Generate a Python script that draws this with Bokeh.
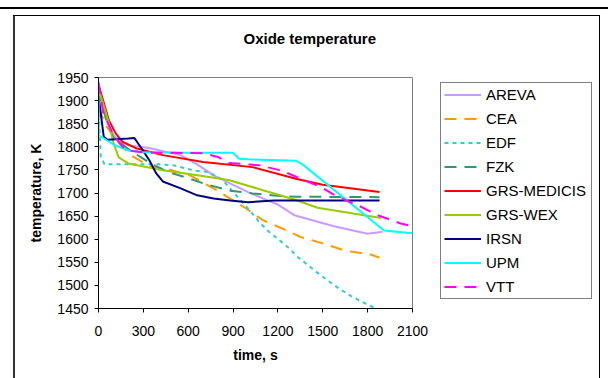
from bokeh.plotting import figure
from bokeh.models import Legend, LegendItem, Title, FixedTicker, Range1d
from bokeh.embed import file_html
from bokeh.resources import INLINE

# ---------------- data ----------------
x_ticks = [0, 300, 600, 900, 1200, 1500, 1800, 2100]
y_ticks = [1450, 1500, 1550, 1600, 1650, 1700, 1750, 1800, 1850, 1900, 1950]

series_names = ["AREVA", "CEA", "EDF", "FZK", "GRS-MEDICIS", "GRS-WEX", "IRSN", "UPM", "VTT"]

areva_t = [0, 50, 100, 150, 200, 330, 550, 660, 770, 1000, 1130, 1200, 1310, 1575, 1800, 1900]
areva_T = [1925, 1860, 1825, 1810, 1803, 1798, 1782, 1762, 1738, 1702, 1684, 1675, 1652, 1628, 1612, 1616]

cea_t = [0, 50, 80, 150, 215, 350, 460, 620, 700, 770, 880, 985, 1100, 1230, 1350, 1500, 1575, 1640, 1730, 1800, 1880]
cea_T = [1885, 1846, 1832, 1803, 1782, 1757, 1752, 1737, 1722, 1710, 1688, 1667, 1641, 1623, 1605, 1591, 1583, 1576, 1571, 1569, 1560]

edf_t = [0, 15, 40, 150, 400, 500, 650, 720, 800, 850, 910, 1020, 1075, 1140, 1210, 1275, 1330, 1400, 1465, 1540, 1610, 1690, 1765, 1840]
edf_T = [1890, 1780, 1762, 1762, 1762, 1760, 1748, 1746, 1735, 1721, 1699, 1659, 1637, 1616, 1598, 1580, 1562, 1544, 1527, 1509, 1493, 1477, 1464, 1452]

fzk_t = [0, 50, 100, 200, 280, 350, 460, 570, 720, 880, 1030, 1190, 1320, 1880]
fzk_T = [1925, 1860, 1820, 1795, 1778, 1764, 1746, 1735, 1719, 1705, 1699, 1694, 1692, 1691]

medicis_t = [0, 70, 115, 160, 250, 430, 700, 1030, 1320, 1500, 1880]
medicis_T = [1935, 1857, 1829, 1811, 1797, 1782, 1767, 1756, 1731, 1718, 1702]

wex_t = [0, 70, 100, 135, 200, 430, 650, 870, 1100, 1250, 1353, 1465, 1890]
wex_T = [1927, 1851, 1808, 1777, 1764, 1749, 1739, 1728, 1706, 1692, 1681, 1668, 1646]

irsn_t = [0, 35, 60, 200, 240, 280, 340, 385, 430, 550, 660, 770, 880, 1000, 1175, 1880]
irsn_T = [1910, 1822, 1815, 1818, 1819, 1800, 1771, 1743, 1725, 1710, 1695, 1688, 1684, 1680, 1684, 1684]

upm_t = [0, 2, 100, 200, 300, 600, 900, 940, 1000, 1320, 1365, 1910, 2100]
upm_T = [1935, 1825, 1805, 1792, 1788, 1787, 1787, 1774, 1773, 1770, 1762, 1619, 1613]

vtt_t = [0, 30, 100, 180, 300, 700, 800, 870, 1075, 1220, 1353, 1487, 1600, 1732, 1866, 2022, 2075]
vtt_T = [1940, 1875, 1825, 1793, 1788, 1786, 1778, 1765, 1760, 1749, 1731, 1713, 1692, 1674, 1652, 1634, 1630]

series_t = [areva_t, cea_t, edf_t, fzk_t, medicis_t, wex_t, irsn_t, upm_t, vtt_t]
series_T = [areva_T, cea_T, edf_T, fzk_T, medicis_T, wex_T, irsn_T, upm_T, vtt_T]

# ---------------- styles ----------------
colors = ["#CC99FF", "#FF9900", "#33CCCC", "#339966", "#FF0000", "#99CC00", "#000080", "#00FFFF", "#FF00FF"]
dashes = ["solid", "12 8", "4 4", "12 8", "solid", "solid", "solid", "solid", "12 8"]

FONT = "Liberation Sans"
L, R, T, B = 98, 196, 77, 70
FW, FH = 314, 231

# page decorations (rule lines of the original document), drawn as CSS backgrounds
deco = {
    "background-color": "white",
    "background-image": ("linear-gradient(#000,#000), linear-gradient(#000,#000), "
                         "linear-gradient(#333,#333), linear-gradient(#000,#000)"),
    "background-size": "608px 2px, 587px 1px, 2px 370px, 1px 370px",
    "background-position": "0px 7px, 13px 15px, 13px 15px, 599px 15px",
    "background-repeat": "no-repeat",
}

p = figure(frame_width=FW, frame_height=FH, output_backend="svg", toolbar_location=None,
           x_range=Range1d(0, 2100), y_range=Range1d(1450, 1950),
           min_border_left=L, min_border_right=R, min_border_top=T, min_border_bottom=B,
           styles=deco)
p.title = Title(text="Oxide temperature", align="left", offset=145,
                vertical_align="top", standoff=58,
                text_font=FONT, text_font_style="bold", text_font_size="15px",
                text_color="black")
p.background_fill_color = "white"
p.border_fill_alpha = 0.0
p.outline_line_color = "#808080"
p.outline_line_width = 1
p.xgrid.visible = False
p.ygrid.visible = False

p.xaxis.ticker = FixedTicker(ticks=x_ticks)
p.yaxis.ticker = FixedTicker(ticks=y_ticks)
p.xaxis.major_label_overrides = {t: str(t) for t in x_ticks}
p.yaxis.major_label_overrides = {t: str(t) for t in y_ticks}
p.xaxis.axis_label = "time, s"
p.yaxis.axis_label = "temperature, K"
for ax in (p.xaxis[0], p.yaxis[0]):
    ax.axis_line_color = "black"
    ax.axis_line_width = 1
    ax.major_tick_line_color = "black"
    ax.major_tick_in = 0
    ax.major_tick_out = 4
    ax.minor_tick_line_color = None
    ax.major_label_text_font = FONT
    ax.major_label_text_font_size = "14px"
    ax.major_label_text_color = "black"
    ax.axis_label_text_font = FONT
    ax.axis_label_text_font_size = "14px"
    ax.axis_label_text_font_style = "bold"
    ax.axis_label_text_color = "black"
p.yaxis.major_label_standoff = 6
p.xaxis.major_label_standoff = 13
p.yaxis.axis_label_standoff = 10
p.xaxis.axis_label_standoff = 8

items = []
for name, t, temp, c, d in zip(series_names, series_t, series_T, colors, dashes):
    r = p.line(t, temp, line_color=c, line_width=2, line_dash=d)
    items.append(LegendItem(label=name, renderers=[r]))

legend = Legend(items=items, location=(28, 9),
                border_line_color="black", border_line_width=1,
                background_fill_color="white", background_fill_alpha=1.0,
                label_text_font=FONT, label_text_font_size="15px", label_text_color="black",
                glyph_width=37, glyph_height=17, label_height=17, label_standoff=5,
                label_width=102, padding=3, spacing=7, margin=0)
p.add_layout(legend, "right")

open("out.html", "w").write(file_html(p, INLINE))
